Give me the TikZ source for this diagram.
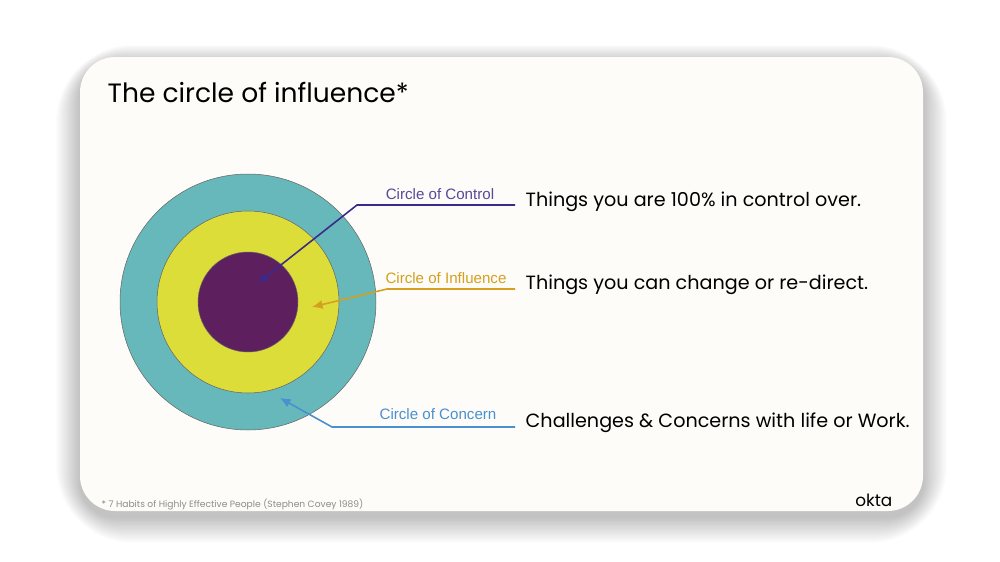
\documentclass[tikz,border=0pt]{standalone}
\usepackage{fontspec}
\setmainfont{Poppins}
\newfontfamily\arialf{Liberation Sans}
\usetikzlibrary{arrows.meta}
\definecolor{card}{HTML}{FDFCF8}
\definecolor{teal}{HTML}{66B8BA}
\definecolor{yel}{HTML}{DDDD3A}
\definecolor{purp}{HTML}{5E1F5E}
\definecolor{ctl}{HTML}{3A2A8A}
\definecolor{infl}{HTML}{D4A020}
\definecolor{conc}{HTML}{4A90D0}
\tikzset{
 ring/.style={circle,draw=black!60,line width=0.15pt,inner sep=0},
 lbl/.style={font=\arialf\fontsize{4.3}{5}\selectfont,anchor=center},
 desc/.style={font=\fontsize{5.45}{6.5}\selectfont,anchor=west,inner sep=0},
 conn/.style={line width=0.45pt,-{Latex[length=3pt,width=2.6pt]}},
}
\begin{document}
\begin{tikzpicture}[x=0.1mm,y=-0.1mm]
\useasboundingbox (0,0) rectangle (1000,562);
\fill[white] (0,0) rectangle (1000,562);
\foreach \i in {1,...,20}{
  \fill[black,opacity=0.012,rounded corners=10pt+\i*0.6pt] (80-\i*1.2,57-\i*0.9+6) rectangle (923+\i*1.2,511+\i*1.3+6);
}
\fill[card,rounded corners=10pt] (80,57) rectangle (923,511);
\node[anchor=west,inner sep=0,font=\fontsize{7.55}{9}\selectfont] (title) at (107,92) {The circle of influence*};
\node[ring,fill=teal,minimum size=256*0.2845pt] (outer) at (248,302) {};
\node[ring,fill=yel,minimum size=182*0.2845pt] (mid) at (248,302) {};
\node[ring,fill=purp,minimum size=100*0.2845pt] (inner) at (248,302) {};
\coordinate (tctl) at (258,283);
\coordinate (tinf) at (312,307);
\coordinate (tcon) at (280,398);
\coordinate (ectl) at (515,205);
\coordinate (einf) at (515,289);
\coordinate (econ) at (515,427);
\node[lbl,text=ctl!85] (lctl) at (440,194) {Circle of Control};
\node[lbl,text=infl] (linf) at (446,278) {Circle of Influence};
\node[lbl,text=conc] (lcon) at (438,414) {Circle of Concern};
\draw[conn,ctl] (ectl) -- (357,205) -- (tctl);
\draw[conn,infl] (einf) -- (387,289) -- (tinf);
\draw[conn,conc] (econ) -- (332,427) -- (tcon);
\node[desc] (dctl) at (525,202) {Things you are 100\% in control over.};
\node[desc] (dinf) at (525,285) {Things you can change or re-direct.};
\node[desc] (dcon) at (525,423) {Challenges \& Concerns with life or Work.};
\node[anchor=west,inner sep=0,text=black!45,font=\fontsize{2.6}{3}\selectfont] (foot) at (101,504) {* 7 Habits of Highly Effective People (Stephen Covey 1989)};
\node[anchor=east,inner sep=0,font=\fontsize{4.8}{5}\selectfont] (okta) at (893,500) {okta};
\end{tikzpicture}
\end{document}
